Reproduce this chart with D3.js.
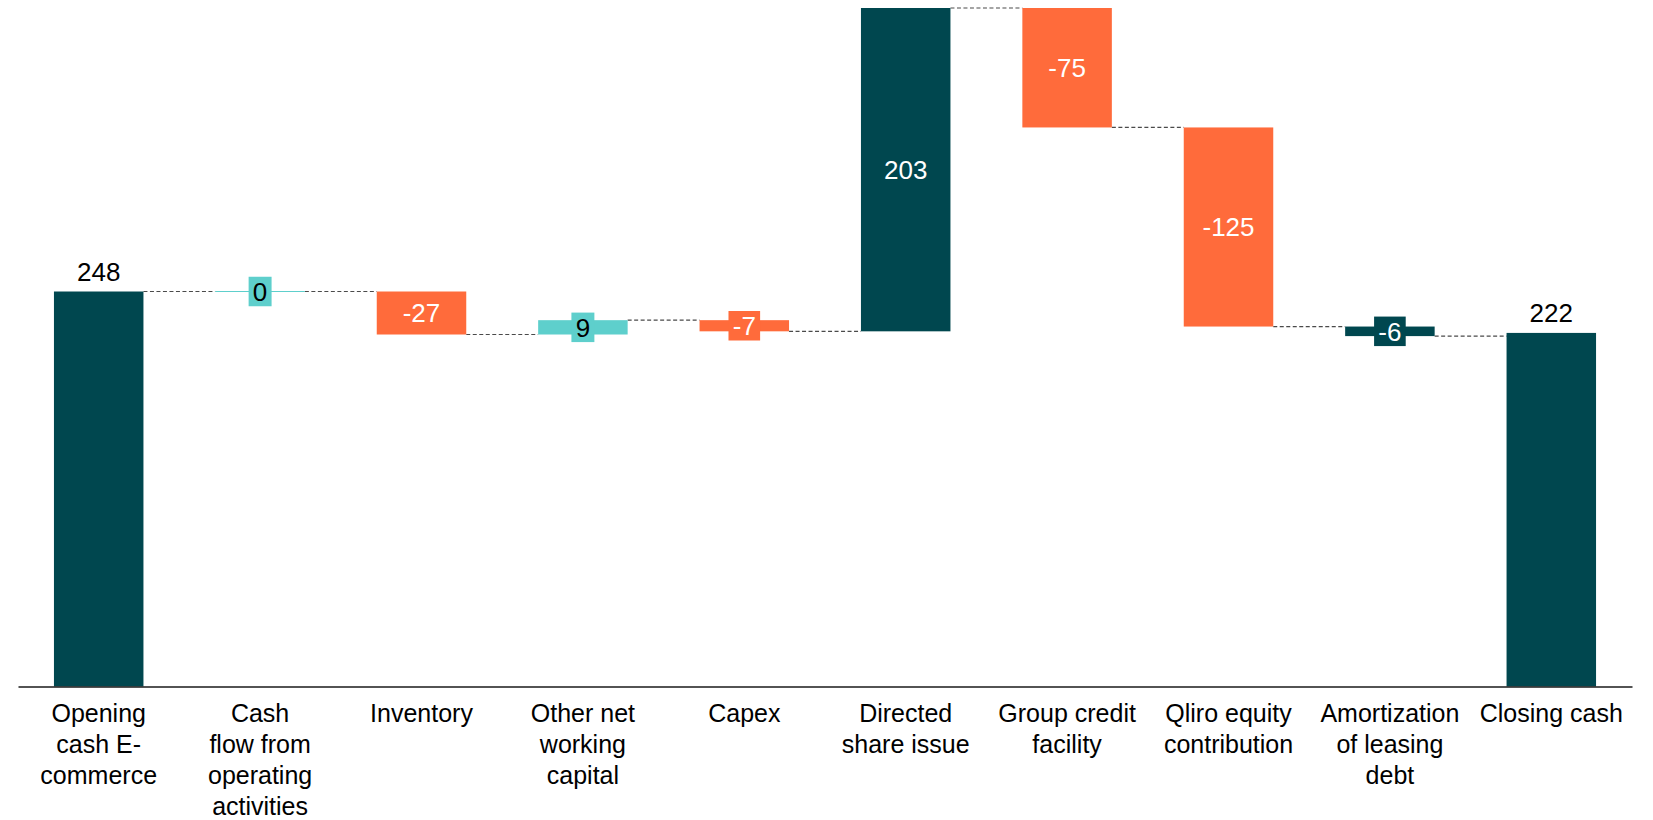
<!DOCTYPE html>
<html>
<head>
<meta charset="utf-8">
<script src="https://cdn.jsdelivr.net/npm/d3@7"></script>
<style>
  html, body { margin: 0; padding: 0; background: #fff; }
  svg { display: block; font-family: "Liberation Sans", Arial, sans-serif; }
</style>
</head>
<body>
<svg id="chart" width="1653" height="820"></svg>
<script>
// Cash bridge, E-commerce (SEK m)
const categories = [
  "Opening\ncash E-\ncommerce",
  "Cash\nflow from\noperating\nactivities",
  "Inventory",
  "Other net\nworking\ncapital",
  "Capex",
  "Directed\nshare issue",
  "Group credit\nfacility",
  "Qliro equity\ncontribution",
  "Amortization\nof leasing\ndebt",
  "Closing cash"
];
const values = [248, 0, -27, 9, -7, 203, -75, -125, -6, 222];
const isTotal = [true, false, false, false, false, false, false, false, false, true];

// Palette
const DARK = "#00474F", ORANGE = "#FF6B3B", CYAN = "#5ECFCC";
const barColors = [DARK, CYAN, ORANGE, CYAN, ORANGE, DARK, ORANGE, ORANGE, DARK, DARK];
const labelColors = barColors.map(c => c === CYAN ? "#000" : "#fff");

// Running totals: each bar gets a start and end level
let running = 0;
const bars = categories.map((c, i) => {
  let start, end;
  if (isTotal[i]) { start = 0; end = values[i]; running = values[i]; }
  else { start = running; end = running + values[i]; running = end; }
  return { cat: c, value: values[i], start, end, total: isTotal[i], i };
});

const svg = d3.select("#chart");
const x = d3.scaleBand().domain(categories).range([18, 1632]).paddingInner(0.4455).paddingOuter(0.4455 / 2);
const y = d3.scaleLinear().domain([0, 426]).range([686.5, 8]);
const bw = x.bandwidth();

// Connectors between consecutive bars
const conn = svg.append("g");
bars.slice(0, -1).forEach((b, i) => {
  const nx = bars[i + 1];
  conn.append("line")
    .attr("x1", x(b.cat) + bw).attr("x2", x(nx.cat))
    .attr("y1", y(b.end)).attr("y2", y(b.end))
    .attr("stroke", "#4a4a4a").attr("stroke-width", 1.2)
    .attr("stroke-dasharray", "4,2.5");
});

// Bars
const g = svg.append("g");
bars.forEach(b => {
  const y0 = y(Math.max(b.start, b.end)), y1 = y(Math.min(b.start, b.end));
  if (b.value === 0 && !b.total) {
    g.append("line")
      .attr("x1", x(b.cat)).attr("x2", x(b.cat) + bw)
      .attr("y1", y0).attr("y2", y0)
      .attr("stroke", barColors[b.i]).attr("stroke-width", 1.2);
  } else {
    g.append("rect")
      .attr("x", x(b.cat)).attr("y", y0)
      .attr("width", bw).attr("height", y1 - y0)
      .attr("fill", barColors[b.i]);
  }
});

// Value labels
const FS = 26;
const lab = svg.append("g").attr("font-size", FS).attr("text-anchor", "middle");
bars.forEach(b => {
  const cx = x(b.cat) + bw / 2;
  const txt = String(b.value);
  if (b.total) {
    lab.append("text").attr("x", cx).attr("y", y(b.end) - 11)
      .attr("fill", "#000").text(txt);
    return;
  }
  const top = y(Math.max(b.start, b.end)), bot = y(Math.min(b.start, b.end));
  const cy = (top + bot) / 2;
  if (bot - top < 32) {
    const t = lab.append("text").attr("x", cx).attr("y", cy)
      .attr("dy", "0.36em").attr("fill", labelColors[b.i]).text(txt);
    const w = t.node().getComputedTextLength() + 8.5;
    const h = 29.5;
    lab.insert("rect", () => t.node())
      .attr("x", cx - w / 2).attr("y", cy - h / 2)
      .attr("width", w).attr("height", h)
      .attr("fill", barColors[b.i]);
  } else {
    lab.append("text").attr("x", cx).attr("y", cy)
      .attr("dy", "0.36em").attr("fill", labelColors[b.i]).text(txt);
  }
});

// Category axis
const axis = svg.append("g").attr("transform", `translate(0,${y(0)})`)
  .call(d3.axisBottom(x).tickSize(0).tickSizeOuter(0).tickPadding(0));
axis.select(".domain").attr("stroke", "#1a1a1a").attr("stroke-width", 1.6);
axis.selectAll(".tick text").each(function(d) {
  const t = d3.select(this);
  t.text(null).attr("y", 0).attr("dy", null)
    .attr("font-size", 25).attr("fill", "#000")
    .attr("font-family", "'Liberation Sans', Arial, sans-serif");
  d.split("\n").forEach((line, k) => {
    t.append("tspan").attr("x", 0).attr("y", 35.5 + k * 31).text(line);
  });
});
</script>
</body>
</html>
